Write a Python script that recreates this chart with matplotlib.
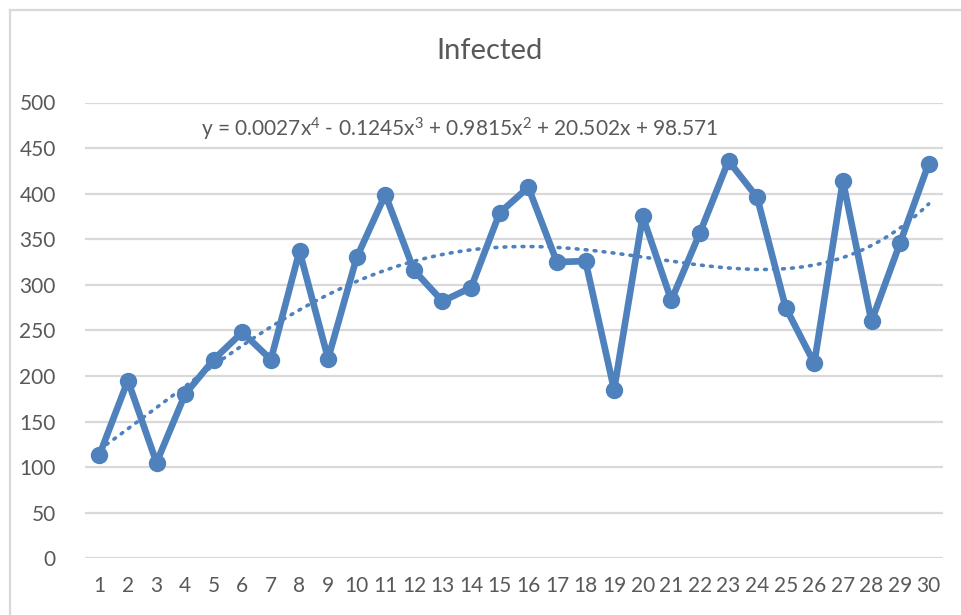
import matplotlib
matplotlib.use("Agg")
import matplotlib.pyplot as plt
from matplotlib.lines import Line2D
import numpy as np

plt.rcParams["font.family"] = ["Lato", "DejaVu Sans"]
plt.rcParams["mathtext.fontset"] = "custom"
plt.rcParams["mathtext.rm"] = "Lato"
plt.rcParams["mathtext.default"] = "regular"

days = list(range(1, 31))
infected = [113, 195, 105, 180, 218, 248, 218, 337, 219, 330,
            399, 316, 282, 297, 379, 407, 325, 326, 185, 375,
            283, 357, 436, 396, 275, 214, 414, 260, 346, 433]
equation = "y = 0.0027x$^{4}$ - 0.1245x$^{3}$ + 0.9815x$^{2}$ + 20.502x + 98.571"

BLUE = "#4f81bd"
GRID = "#d9d9d9"
TXT = "#595959"

W, H = 961, 615
fig = plt.figure(figsize=(W / 100, H / 100), dpi=100)
ax = fig.add_axes([85 / W, 1 - 558.3 / H, (943 - 85) / W, (558.3 - 102.5) / H])

# 4th-order polynomial trendline fitted to the data
coef = np.polyfit(days, infected, 4)
xs = np.linspace(1, 30, 300)
ax.plot(xs, np.polyval(coef, xs), color=BLUE, lw=2.6, ls=(0, (0.5, 2.0)),
        dash_capstyle="round", zorder=2)

ax.plot(days, infected, color=BLUE, lw=4.8, marker="o", ms=11.5,
        solid_joinstyle="round", zorder=3)

ax.set_xlim(0.5, 30.5)
ax.set_ylim(0, 500)
ax.set_xticks(days)
ax.set_yticks(range(0, 501, 50))
ax.grid(axis="y", color=GRID, lw=1.6)
ax.set_axisbelow(True)
for s in ax.spines.values():
    s.set_visible(False)
ax.tick_params(length=0, labelsize=15, colors=TXT)
ax.tick_params(axis="y", pad=21)
ax.tick_params(axis="x", pad=13)

fig.text(460 / W, 1 - 129 / H, equation, ha="center", va="center",
         fontsize=15, color=TXT)
fig.text(490 / W, 1 - 51 / H, "Infected", ha="center", va="center",
         fontsize=21, color=TXT)

# chart area border (clipped at right/bottom in the reference)
fig.add_artist(Line2D([9.5 / W, 9.5 / W], [0, 1 - 10 / H], color=GRID, lw=1.6))
fig.add_artist(Line2D([9.5 / W, 1], [1 - 10 / H, 1 - 10 / H], color=GRID, lw=1.6))

fig.savefig("out.png", dpi=100)
